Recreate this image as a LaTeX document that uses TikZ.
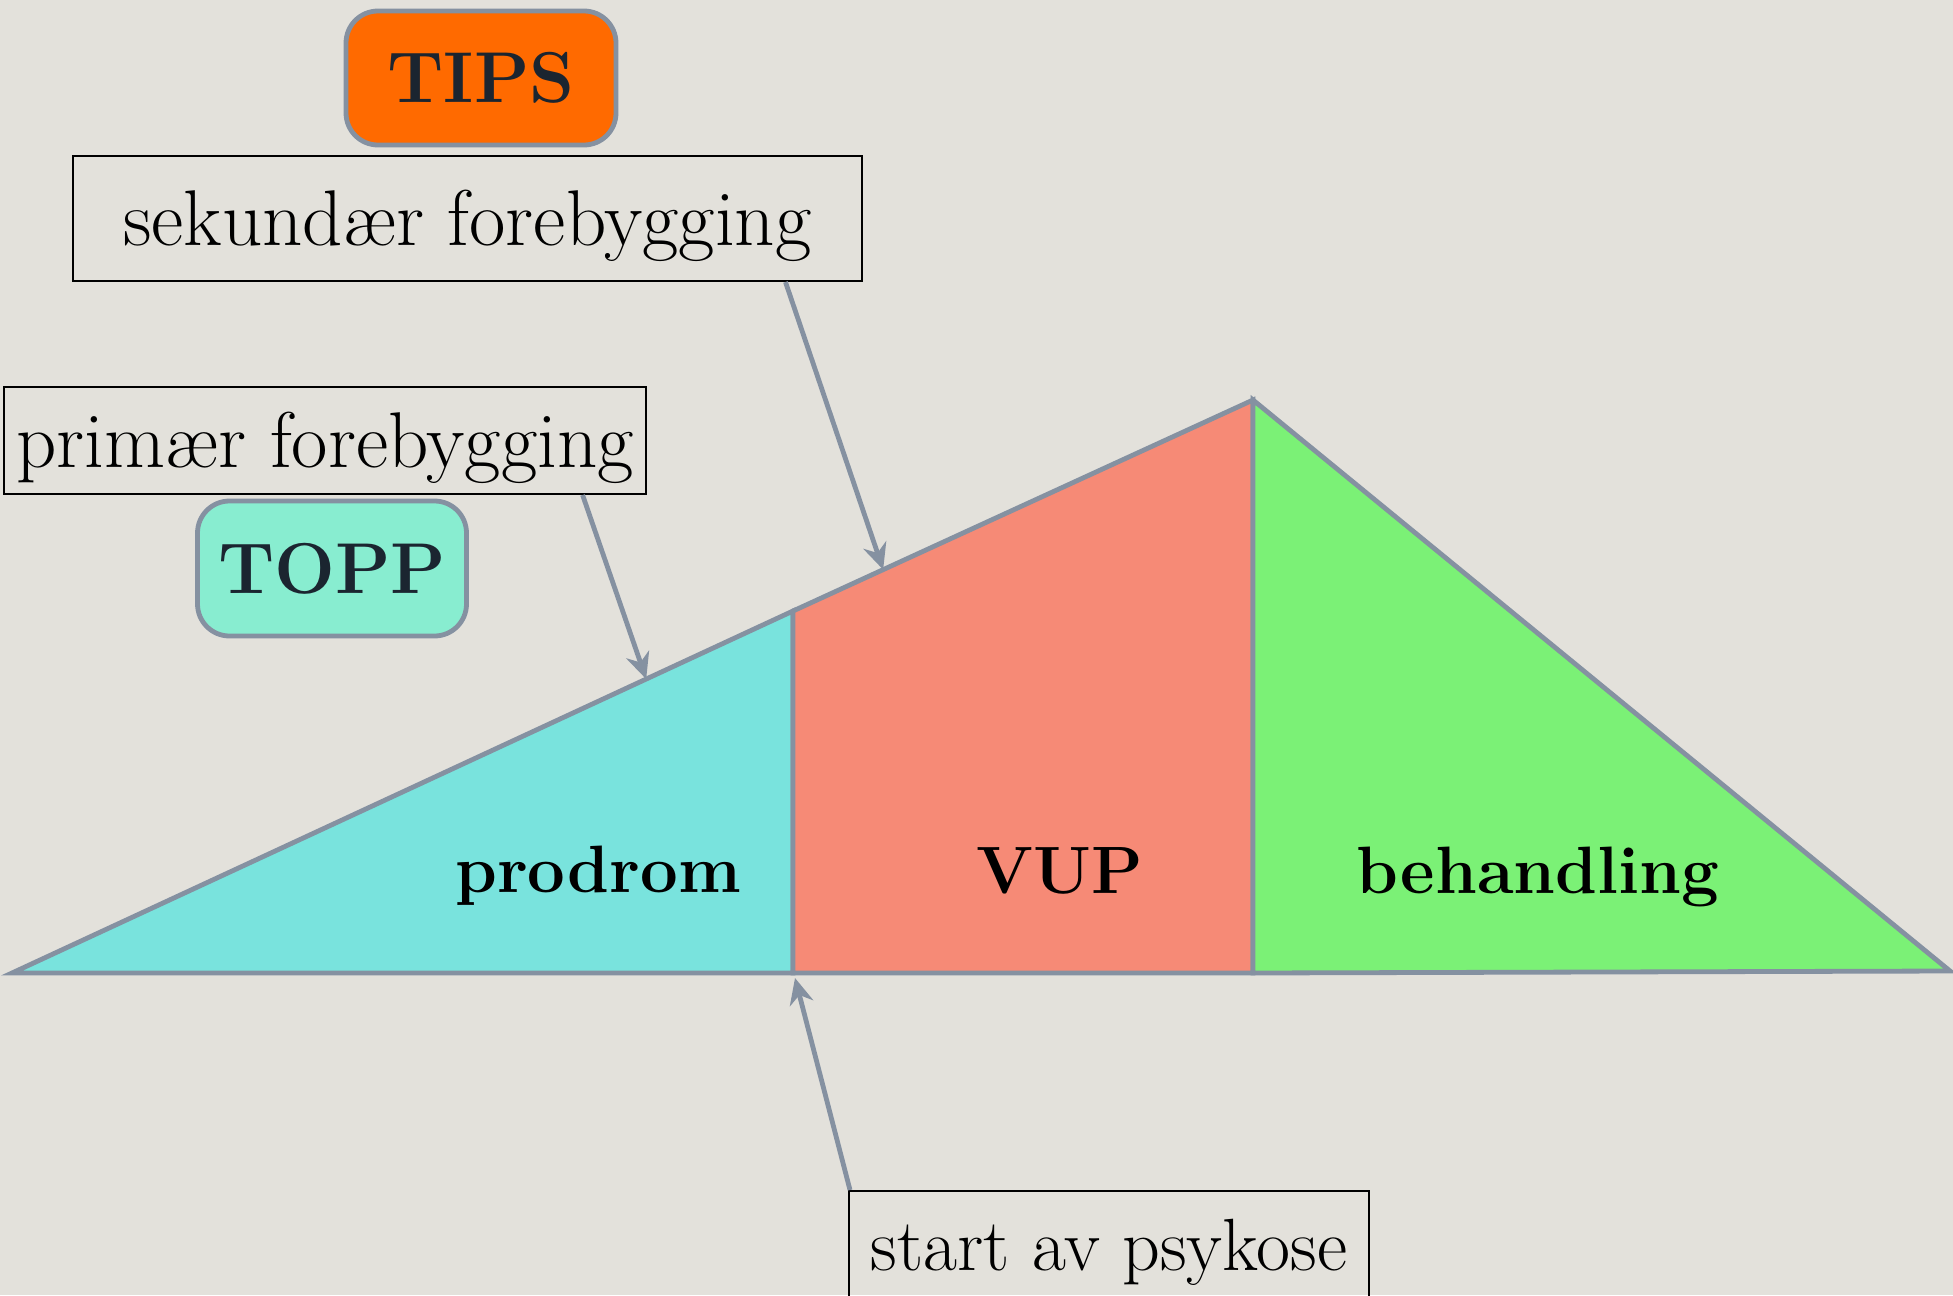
\documentclass[tikz,border=0pt]{standalone}
\usepackage{fontspec}
\usetikzlibrary{arrows.meta,calc}
\definecolor{bg}{HTML}{E3E1DB}
\definecolor{edge}{HTML}{8591A1}
\definecolor{cyanfill}{HTML}{79E3DD}
\definecolor{redfill}{HTML}{F68A76}
\definecolor{greenfill}{HTML}{7BF176}
\definecolor{tipsfill}{HTML}{FF6A00}
\definecolor{toppfill}{HTML}{88EDD0}
\definecolor{darktext}{HTML}{1B2530}
\begin{document}
\begin{tikzpicture}[x=0.5pt,y=-0.5pt,
  region/.style={draw=edge,line width=2.4pt,line join=miter},
  labelbox/.style={draw=black,line width=1pt,inner sep=0pt,
    font=\fontsize{39.5}{44}\selectfont,text height=33.5pt,text depth=7pt},
  badge/.style={draw=edge,line width=2.4pt,rounded corners=16pt,inner sep=0pt,
    font=\fontsize{36}{40}\bfseries\selectfont,text=darktext,text height=31pt,text depth=6pt},
  inlabel/.style={anchor=base,font=\fontsize{33.5}{38}\bfseries\selectfont,text=black},
  pointer/.style={draw=edge,line width=2.4pt,-{Stealth[length=13pt,width=12pt]}}]
\useasboundingbox (0,0) rectangle (1953,1295);
\clip (0,0) rectangle (1953,1295);
\fill[bg] (0,0) rectangle (1953,1295);
% polygon points
\coordinate (A) at (12,973);
\coordinate (B) at (793,973);
\coordinate (C) at (793,611);
\coordinate (D) at (1253,400);
\coordinate (E) at (1253,973);
\coordinate (F) at (1950,971);
\filldraw[region,fill=cyanfill] (A) -- (B) -- (C) -- cycle;
\filldraw[region,fill=redfill] (B) -- (C) -- (D) -- (E) -- cycle;
\filldraw[region,fill=greenfill] (E) -- (D) -- (F) -- cycle;
% inner labels
\node[inlabel] (prodrom) at (598,892) {prodrom};
\node[inlabel] (vup) at (1060,893) {VUP};
\node[inlabel] (behandling) at (1538,893) {behandling};
% badges
\node[badge,fill=tipsfill,minimum width=135pt,minimum height=67pt] (tips) at (481,78) {TIPS};
\node[badge,fill=toppfill,minimum width=134.5pt,minimum height=67.5pt] (topp) at (332,568.5) {TOPP};
% text boxes
\node[labelbox,minimum width=394.5pt,minimum height=62.5pt] (sek) at (467.5,218.5) {sekundær forebygging};
\node[labelbox,minimum width=321pt,minimum height=53.5pt] (prim) at (325,440.5) {primær forebygging};
\node[labelbox,font=\fontsize{37}{42}\selectfont,minimum width=260pt,minimum height=75pt,text height=11.5pt,text depth=7pt] (start) at (1109,1266) {start av psykose};
% arrows
\coordinate (primtip) at ($(A)!0.812!(C)$);
\coordinate (sektip) at ($(C)!0.196!(D)$);
\coordinate (starttip) at (795,978);
\draw[pointer] ($(prim.south west)!0.9!(prim.south east)$) -- (primtip);
\draw[pointer] ($(sek.south west)!0.902!(sek.south east)$) -- (sektip);
\draw[pointer] ([xshift=1pt]start.north west) -- (starttip);
\end{tikzpicture}
\end{document}
